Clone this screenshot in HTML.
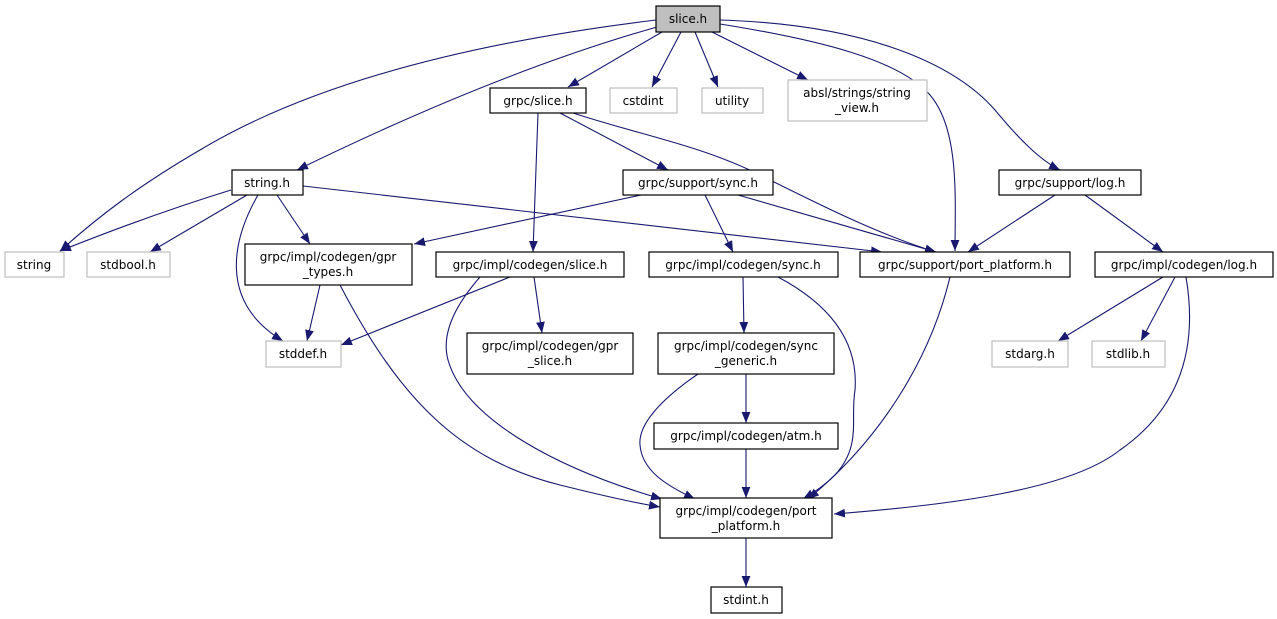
<!DOCTYPE html>
<html><head><meta charset="utf-8"><style>
html,body{margin:0;padding:0;background:#fff;}
svg{display:block;}
text{font-family:"DejaVu Sans","Liberation Sans",sans-serif;font-size:12px;fill:#000;text-anchor:middle;}
.b{fill:#fff;stroke:#000;stroke-width:1.2;}
.g{fill:#fff;stroke:#bfbfbf;stroke-width:1.2;}
.e{fill:none;stroke:#191970;stroke-width:1.1;}
</style></head><body>
<svg width="1277" height="619" viewBox="0 0 1277 619" xmlns="http://www.w3.org/2000/svg">
<defs><marker id="a" viewBox="0 0 10 8" refX="10" refY="4" markerWidth="11" markerHeight="9" markerUnits="userSpaceOnUse" orient="auto"><path d="M0,0 L10,4 L0,8 z" fill="#191970"/></marker></defs>
<g class="e" marker-end="url(#a)">
<path d="M656,20 C450,45 300,90 200,150 C140,185 100,215 60,251"/>
<path d="M657,27 C540,60 420,110 297,170"/>
<path d="M662,32 L568,87"/>
<path d="M681,32 L652,87"/>
<path d="M695,32 L718,87"/>
<path d="M712,32 L808,80"/>
<path d="M720,24 C820,40 900,60 930,95 C960,130 955,200 955,251"/>
<path d="M720,20 C880,25 960,70 995,110 C1020,140 1040,160 1060,170"/>
<path d="M538,113 L533,252"/>
<path d="M560,113 L668,170"/>
<path d="M573,113 C640,135 700,145 760,175 C820,205 880,235 936,252"/>
<path d="M231,190 Q150,215 60,251"/>
<path d="M247,195 L150,252"/>
<path d="M258,195 C235,235 215,300 283,341"/>
<path d="M277,195 L310,244"/>
<path d="M303,186 L882,252"/>
<path d="M641,195 L414,244"/>
<path d="M705,195 L733,252"/>
<path d="M738,195 L936,252"/>
<path d="M1055,195 L968,252"/>
<path d="M1085,195 L1163,252"/>
<path d="M320,285 L307,341"/>
<path d="M340,285 C400,400 460,460 560,485 C600,495 630,502 660,507"/>
<path d="M510,277 L341,345"/>
<path d="M534,277 L542,333"/>
<path d="M480,277 C460,300 440,330 448,360 C465,420 560,470 662,499"/>
<path d="M743,277 L744,333"/>
<path d="M778,277 C840,310 858,350 855,390 C850,420 862,445 835,475 C825,485 815,492 803,499"/>
<path d="M746,374 L746,423"/>
<path d="M698,374 C660,400 638,425 640,445 C642,470 665,485 695,499"/>
<path d="M746,449 L746,498"/>
<path d="M746,538 L746,587"/>
<path d="M950,277 C930,360 880,440 808,499"/>
<path d="M1163,277 L1058,341"/>
<path d="M1175,277 L1141,341"/>
<path d="M1186,277 C1195,330 1192,400 1120,450 C1070,490 950,505 834,514"/>
</g>
<rect x="656" y="6" width="64" height="26" fill="#bfbfbf" stroke="#000" stroke-width="1.2"/><text x="688" y="23">slice.h</text>
<rect class="b" x="490" y="88" width="96" height="25"/><text x="538" y="105">grpc/slice.h</text>
<rect class="g" x="610" y="88" width="67" height="25"/><text x="643" y="105">cstdint</text>
<rect class="g" x="702" y="88" width="61" height="25"/><text x="732" y="105">utility</text>
<rect class="g" x="788" y="80" width="139" height="41"/><text x="857" y="97">absl/strings/string</text><text x="857" y="112">_view.h</text>
<rect class="b" x="232" y="170" width="71" height="25"/><text x="267" y="187">string.h</text>
<rect class="b" x="623" y="170" width="150" height="25"/><text x="698" y="187">grpc/support/sync.h</text>
<rect class="b" x="999" y="170" width="142" height="25"/><text x="1070" y="187">grpc/support/log.h</text>
<rect class="g" x="5" y="252" width="59" height="25"/><text x="34" y="269">string</text>
<rect class="g" x="87" y="252" width="83" height="25"/><text x="128" y="269">stdbool.h</text>
<rect class="b" x="245" y="244" width="167" height="41"/><text x="328" y="261">grpc/impl/codegen/gpr</text><text x="328" y="276">_types.h</text>
<rect class="b" x="436" y="252" width="188" height="25"/><text x="530" y="269">grpc/impl/codegen/slice.h</text>
<rect class="b" x="649" y="252" width="189" height="25"/><text x="743" y="269">grpc/impl/codegen/sync.h</text>
<rect class="b" x="860" y="252" width="210" height="25"/><text x="965" y="269">grpc/support/port_platform.h</text>
<rect class="b" x="1095" y="252" width="178" height="25"/><text x="1184" y="269">grpc/impl/codegen/log.h</text>
<rect class="g" x="266" y="341" width="75" height="26"/><text x="303" y="358">stddef.h</text>
<rect class="b" x="467" y="333" width="166" height="41"/><text x="550" y="350">grpc/impl/codegen/gpr</text><text x="550" y="365">_slice.h</text>
<rect class="b" x="658" y="333" width="176" height="41"/><text x="746" y="350">grpc/impl/codegen/sync</text><text x="746" y="365">_generic.h</text>
<rect class="g" x="992" y="341" width="76" height="26"/><text x="1030" y="358">stdarg.h</text>
<rect class="g" x="1092" y="341" width="73" height="26"/><text x="1128" y="358">stdlib.h</text>
<rect class="b" x="654" y="423" width="184" height="26"/><text x="746" y="440">grpc/impl/codegen/atm.h</text>
<rect class="b" x="660" y="498" width="172" height="40"/><text x="746" y="515">grpc/impl/codegen/port</text><text x="746" y="530">_platform.h</text>
<rect class="b" x="711" y="587" width="71" height="26"/><text x="746" y="604">stdint.h</text>
</svg>
</body></html>
